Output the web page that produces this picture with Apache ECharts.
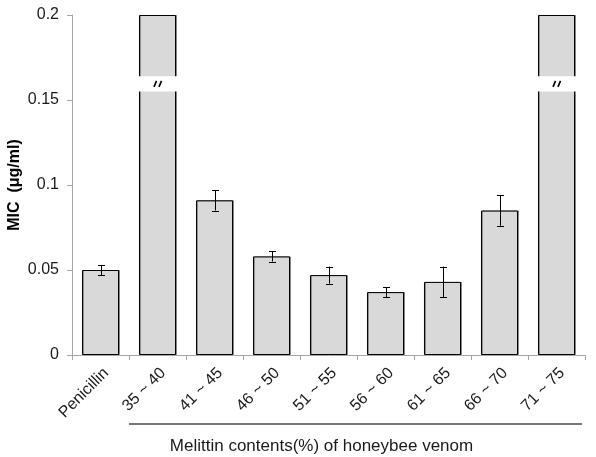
<!DOCTYPE html>
<html><head><meta charset="utf-8">
<script src="https://cdn.jsdelivr.net/npm/echarts@6/dist/echarts.min.js"></script>
<style>html,body{margin:0;padding:0;background:#fff}#c{width:596px;height:457px}</style>
</head><body><div id="c"></div>
<script>
const categories = ['Penicillin','35 ~ 40','41 ~ 45','46 ~ 50','51 ~ 55','56 ~ 60','61 ~ 65','66 ~ 70','71 ~ 75'];
const micValues = [0.050, 0.2, 0.091, 0.058, 0.047, 0.037, 0.043, 0.085, 0.2];
const errorValues = [0.003, null, 0.006, 0.003, 0.005, 0.003, 0.009, 0.009, null];
const brokenBars = ['35 ~ 40', '71 ~ 75'];
const breakRange = [0.155, 0.164];
const yTicks = [0, 0.05, 0.1, 0.15, 0.2];
const yAxisTitle = 'MIC  (\u03bcg/ml)';
const xAxisTitle = 'Melittin contents(%) of honeybee venom';
const groupedCategories = categories.slice(1);

const FONT = '"Liberation Sans", Arial, sans-serif';
const BAR_FRAC = 0.65;

const errData = [];
categories.forEach((c, i) => {
  if (errorValues[i] != null) errData.push([i, micValues[i] - errorValues[i], micValues[i] + errorValues[i]]);
});
const breakData = brokenBars.map(c => [categories.indexOf(c), breakRange[0], breakRange[1]]);

const chart = echarts.init(document.getElementById('c'), null, {renderer: 'canvas'});
const option = {
  animation: false,
  backgroundColor: '#fff',
  grid: {left: 72, right: 11, top: 15, bottom: 102, containLabel: false, outerBoundsMode: 'none'},
  xAxis: {
    type: 'category',
    data: categories,
    boundaryGap: true,
    axisLine: {lineStyle: {color: '#a6a6a6', width: 1}},
    axisTick: {show: true, alignWithLabel: false, length: 5, lineStyle: {color: '#a6a6a6'}},
    axisLabel: {rotate: 45, margin: 10, fontSize: 16, color: '#1a1a1a', fontFamily: FONT, interval: 0,
      verticalAlign: 'top'}
  },
  yAxis: {
    type: 'value',
    min: yTicks[0], max: yTicks[yTicks.length - 1], interval: yTicks[1] - yTicks[0],
    name: yAxisTitle,
    nameLocation: 'middle',
    nameGap: 49,
    nameRotate: 90,
    nameMoveOverlap: false,
    nameTextStyle: {fontSize: 16, fontWeight: 'bold', color: '#000', fontFamily: FONT},
    axisLine: {show: true, lineStyle: {color: '#a6a6a6', width: 1}},
    axisTick: {show: true, length: 5, lineStyle: {color: '#a6a6a6'}},
    axisLabel: {margin: 13, fontSize: 16, color: '#1a1a1a', fontFamily: FONT,
      formatter: v => String(+v.toFixed(3))},
    splitLine: {show: false}
  },
  series: [
    {
      type: 'bar',
      data: micValues,
      barWidth: (BAR_FRAC * 100) + '%',
      itemStyle: {color: '#d9d9d9', borderColor: '#000', borderWidth: 1,
        shadowColor: 'rgba(0,0,0,0.35)', shadowOffsetX: 1, shadowOffsetY: 0, shadowBlur: 0}
    },
    {
      type: 'custom',
      data: breakData,
      z: 5,
      renderItem(params, api) {
        const idx = api.value(0);
        const lo = api.coord([idx, api.value(1)]);
        const hi = api.coord([idx, api.value(2)]);
        const bw = api.size([1, 0])[0] * BAR_FRAC;
        const cx = lo[0];
        const cy = (lo[1] + hi[1]) / 2;
        const s = {stroke: '#000', lineWidth: 1.6};
        return {type: 'group', children: [
          {type: 'rect', shape: {x: cx - bw / 2 - 2, y: hi[1], width: bw + 4, height: lo[1] - hi[1]}, style: {fill: '#fff'}},
          {type: 'line', shape: {x1: cx - 3.5, y1: cy + 3, x2: cx - 1, y2: cy - 3}, style: s},
          {type: 'line', shape: {x1: cx + 1.5, y1: cy + 3, x2: cx + 4, y2: cy - 3}, style: s}
        ]};
      }
    },
    {
      type: 'custom',
      data: errData,
      z: 6,
      renderItem(params, api) {
        const idx = api.value(0);
        const lo = api.coord([idx, api.value(1)]);
        const hi = api.coord([idx, api.value(2)]);
        const cx = Math.round(lo[0]) + 0.5;
        const hw = 3.5;
        const s = {stroke: '#000', lineWidth: 1};
        return {type: 'group', children: [
          {type: 'line', shape: {x1: cx, y1: lo[1], x2: cx, y2: hi[1]}, style: s},
          {type: 'line', shape: {x1: cx - hw, y1: Math.round(lo[1]) + 0.5, x2: cx + hw, y2: Math.round(lo[1]) + 0.5}, style: s},
          {type: 'line', shape: {x1: cx - hw, y1: Math.round(hi[1]) + 0.5, x2: cx + hw, y2: Math.round(hi[1]) + 0.5}, style: s}
        ]};
      }
    }
  ]
};
chart.setOption(option);

const xa = chart.convertToPixel({xAxisIndex: 0}, groupedCategories[0]);
const xb = chart.convertToPixel({xAxisIndex: 0}, groupedCategories[groupedCategories.length - 1]);
const band = (xb - xa) / (groupedCategories.length - 1);
const gx0 = chart.convertToPixel({xAxisIndex: 0}, categories[0]) - band / 2;
const gx1 = chart.convertToPixel({xAxisIndex: 0}, categories[categories.length - 1]) + band / 2;
chart.setOption({
  graphic: [
    {type: 'line', shape: {x1: xa - band / 2, y1: 424, x2: xb + band / 2 - 3, y2: 424},
      style: {stroke: '#4d4d4d', lineWidth: 1.5}},
    {type: 'text', x: (gx0 + gx1) / 2 - 7, y: 446,
      style: {text: xAxisTitle, fontSize: 17, fontFamily: FONT, fill: '#1a1a1a', align: 'center', verticalAlign: 'middle'}}
  ]
});
</script>
</body></html>
